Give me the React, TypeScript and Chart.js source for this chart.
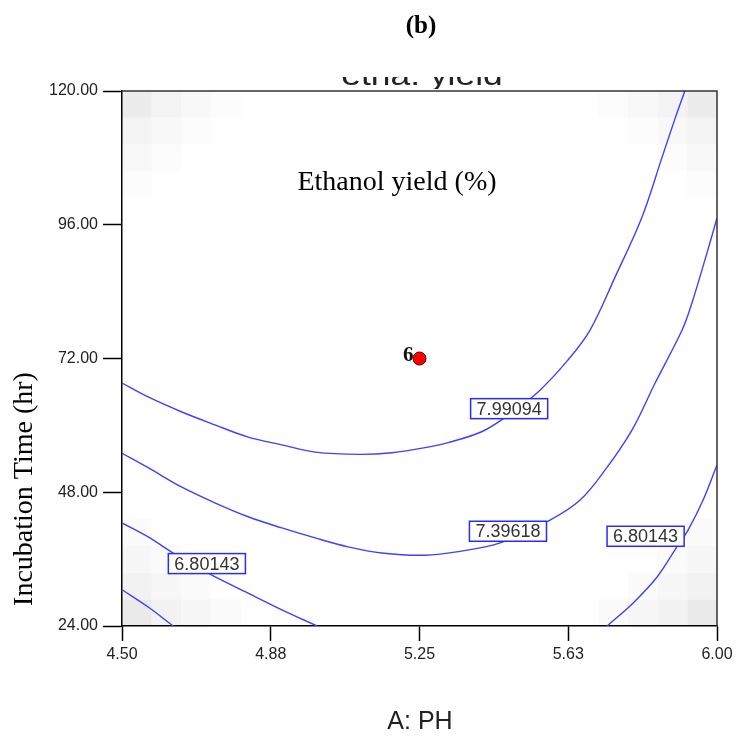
import React, { useEffect, useRef } from "react";
import { Chart, registerables } from "chart.js";

Chart.register(...registerables);

// Axis ticks
const xTicks = [4.5, 4.875, 5.25, 5.625, 6.0];
const yTicks = [24, 48, 72, 96, 120];

// Contour 7.99094
const c1pH = [4.5, 4.566, 4.651, 4.734, 4.818, 4.903, 4.987, 5.1, 5.181, 5.264, 5.322, 5.408, 5.473, 5.549, 5.624, 5.68, 5.743, 5.811, 5.861, 5.894, 5.919];
const c1Time = [67.6, 65.1, 62.4, 60.1, 57.9, 56.5, 55.2, 54.8, 55.1, 56.0, 56.9, 58.9, 61.8, 66.0, 71.7, 77.1, 86.6, 97.4, 108.0, 115.0, 120];

// Contour 7.39618
const c2pH = [4.5, 4.566, 4.651, 4.734, 4.818, 4.903, 4.987, 5.07, 5.155, 5.264, 5.352, 5.453, 5.579, 5.655, 5.718, 5.786, 5.844, 5.912, 5.937, 5.977, 6.0];
const c2Time = [55.0, 52.4, 48.9, 46.1, 43.6, 41.6, 39.8, 38.2, 37.1, 36.7, 37.4, 38.9, 43.0, 46.6, 52.0, 59.2, 67.6, 77.1, 82.0, 91.5, 97.2];

// Contour 6.80143 (left, upper)
const c3pH = [4.5, 4.566, 4.629, 4.717, 4.818, 4.903, 4.992];
const c3Time = [42.5, 40.0, 37.1, 33.5, 29.9, 26.9, 24.0];

// Contour (left corner)
const c4pH = [4.5, 4.566, 4.629];
const c4Time = [30.5, 27.4, 24.0];

// Contour 6.80143 (right)
const c5pH = [5.723, 5.788, 5.849, 5.899, 5.927, 5.965, 6.0];
const c5Time = [24.0, 28.1, 32.8, 38.2, 41.2, 46.6, 52.9];

// Contour labels
const labelText = ["7.99094", "7.39618", "6.80143", "6.80143"];
const labelPH = [5.476, 5.473, 4.714, 5.82];
const labelTime = [63.0, 41.0, 35.2, 40.1];

// Design point
const pointPH = [5.25];
const pointTime = [72];
const pointLabel = ["6"];

// Background shading cells on a 20x20 grid: [col from left, row from bottom, gray]
const shadeCells: [number, number, number][] = [
  [0, 0, 234], [1, 0, 242], [2, 0, 247], [3, 0, 251], [0, 1, 242], [1, 1, 247], [2, 1, 251], [0, 2, 247], [1, 2, 251], [0, 3, 251],
  [0, 19, 236], [1, 19, 243], [2, 19, 248], [3, 19, 252], [0, 18, 243], [1, 18, 248], [2, 18, 252], [0, 17, 248], [1, 17, 252], [0, 16, 252],
  [19, 19, 236], [18, 19, 243], [17, 19, 248], [16, 19, 252], [19, 18, 243], [18, 18, 248], [17, 18, 252], [19, 17, 248], [18, 17, 252], [19, 16, 252],
  [19, 0, 234], [18, 0, 242], [17, 0, 247], [16, 0, 251], [19, 1, 242], [18, 1, 247], [17, 1, 251], [19, 2, 247], [18, 2, 251], [19, 3, 251],
];
const gridN = 20;

const toPts = (xs: number[], ys: number[]) => xs.map((v, i) => ({ x: v, y: ys[i] }));

const lineColor = "rgb(64,64,255)";

const SERIF = '"Liberation Serif", "Times New Roman", serif';
const SANS = '"Liberation Sans", Arial, sans-serif';

const shadePlugin = {
  id: "shade",
  beforeDraw(chart: any) {
    const { ctx, scales } = chart;
    const xs = scales.x, ys = scales.y;
    const cw = (xs.max - xs.min) / gridN;
    const ch = (ys.max - ys.min) / gridN;
    ctx.save();
    shadeCells.forEach(([c, r, g]) => {
      const x0 = xs.getPixelForValue(xs.min + c * cw);
      const x1 = xs.getPixelForValue(xs.min + (c + 1) * cw);
      const y0 = ys.getPixelForValue(ys.min + r * ch);
      const y1 = ys.getPixelForValue(ys.min + (r + 1) * ch);
      ctx.fillStyle = `rgb(${g},${g},${g})`;
      ctx.fillRect(x0, y1, x1 - x0, y0 - y1);
    });
    ctx.restore();
  },
};

const overlayPlugin = {
  id: "overlay",
  afterDatasetsDraw(chart: any) {
    const { ctx, scales, chartArea: a } = chart;
    const xs = scales.x, ys = scales.y;
    ctx.save();
    // contour labels
    ctx.font = `18px ${SANS}`;
    ctx.textAlign = "center";
    ctx.textBaseline = "middle";
    labelText.forEach((t, i) => {
      const px = xs.getPixelForValue(labelPH[i]);
      const py = ys.getPixelForValue(labelTime[i]);
      const w = ctx.measureText(t).width + 12;
      const h = 20;
      ctx.fillStyle = "#fff";
      ctx.fillRect(px - w / 2, py - h / 2, w, h);
      ctx.strokeStyle = "#2a2aff";
      ctx.lineWidth = 1.5;
      ctx.strokeRect(px - w / 2, py - h / 2, w, h);
      ctx.fillStyle = "#333";
      ctx.fillText(t, px, py + 1);
    });
    // design point label
    ctx.font = `bold 21px ${SERIF}`;
    ctx.textAlign = "right";
    ctx.fillStyle = "#111";
    pointLabel.forEach((t, i) => {
      const px = xs.getPixelForValue(pointPH[i]);
      const py = ys.getPixelForValue(pointTime[i]);
      ctx.fillText(t, px - 6, py - 3);
    });
    // top / right frame
    ctx.strokeStyle = "#333";
    ctx.lineWidth = 1.5;
    ctx.beginPath();
    ctx.moveTo(a.left, a.top);
    ctx.lineTo(a.right, a.top);
    ctx.lineTo(a.right, a.bottom);
    ctx.stroke();
    ctx.restore();
  },
  afterDraw(chart: any) {
    const { ctx } = chart;
    ctx.save();
    ctx.fillStyle = "#000";
    ctx.textAlign = "center";
    ctx.textBaseline = "middle";
    ctx.font = `bold 25px ${SERIF}`;
    ctx.fillText("(b)", 421, 27);
    ctx.font = `28px ${SERIF}`;
    ctx.fillText("Ethanol yield (%)", 397, 183);
    ctx.font = `25px ${SANS}`;
    ctx.fillStyle = "#222";
    ctx.fillText("A: PH", 420, 722);
    // clipped internal title
    ctx.save();
    ctx.beginPath();
    ctx.rect(0, 77, 738, 12);
    ctx.clip();
    ctx.translate(422, 85);
    ctx.scale(1.18, 1);
    ctx.font = `30px ${SANS}`;
    ctx.textBaseline = "alphabetic";
    ctx.fillStyle = "#222";
    ctx.fillText("etha: yield", 0, 0);
    ctx.restore();
    // y title
    ctx.save();
    ctx.translate(25, 489);
    ctx.rotate(-Math.PI / 2);
    ctx.font = `28px ${SERIF}`;
    ctx.fillStyle = "#000";
    ctx.fillText("Incubation Time (hr)", 0, 0);
    ctx.restore();
    ctx.restore();
  },
};

export default function App() {
  const ref = useRef<HTMLCanvasElement>(null);
  useEffect(() => {
    document.body.style.margin = "0";
    const canvas = ref.current!;
    const lineDs = (xs: number[], ys: number[]) => ({
      data: toPts(xs, ys),
      showLine: true,
      borderColor: lineColor,
      borderWidth: 1.4,
      pointRadius: 0,
      tension: 0.35,
      fill: false,
    });
    const chart = new Chart(canvas, {
      type: "scatter",
      data: {
        datasets: [
          lineDs(c1pH, c1Time),
          lineDs(c2pH, c2Time),
          lineDs(c3pH, c3Time),
          lineDs(c4pH, c4Time),
          lineDs(c5pH, c5Time),
          {
            data: toPts(pointPH, pointTime),
            pointRadius: 6.5,
            backgroundColor: "#ff0000",
            borderColor: "#5a0000",
            borderWidth: 1,
          } as any,
        ],
      },
      options: {
        animation: false,
        responsive: false,
        layout: { padding: { top: 91, right: 21, left: 0, bottom: 0 } },
        plugins: {
          legend: { display: false },
          tooltip: { enabled: false },
          title: { display: false },
        },
        scales: {
          x: {
            type: "linear",
            min: 4.5,
            max: 6,
            afterBuildTicks: (s: any) => {
              s.ticks = xTicks.map((v) => ({ value: v }));
            },
            afterFit: (s: any) => {
              s.height = 114;
            },
            ticks: {
              callback: (v: any) => Number(v).toFixed(2),
              font: { family: SANS, size: 16 },
              color: "#222",
              padding: 4,
              maxRotation: 0,
              autoSkip: false,
            },
            grid: {
              drawOnChartArea: false,
              drawTicks: true,
              tickLength: 15,
              tickColor: "#000",
              tickWidth: 1.5,
            },
            border: { display: true, color: "#000", width: 1.5 },
          },
          y: {
            type: "linear",
            min: 24,
            max: 120,
            afterBuildTicks: (s: any) => {
              s.ticks = yTicks.map((v) => ({ value: v }));
            },
            afterFit: (s: any) => {
              s.width = 122;
            },
            ticks: {
              callback: (v: any) => Number(v).toFixed(2),
              font: { family: SANS, size: 16 },
              color: "#222",
              padding: 5,
              autoSkip: false,
            },
            grid: {
              drawOnChartArea: false,
              drawTicks: true,
              tickLength: 19,
              tickColor: "#000",
              tickWidth: 1.5,
            },
            border: { display: true, color: "#000", width: 1.5 },
          },
        },
      },
      plugins: [shadePlugin, overlayPlugin],
    });
    return () => chart.destroy();
  }, []);
  return (
    <div style={{ width: 738, height: 740 }}>
      <canvas ref={ref} width={738} height={740} style={{ display: "block" }} />
    </div>
  );
}
